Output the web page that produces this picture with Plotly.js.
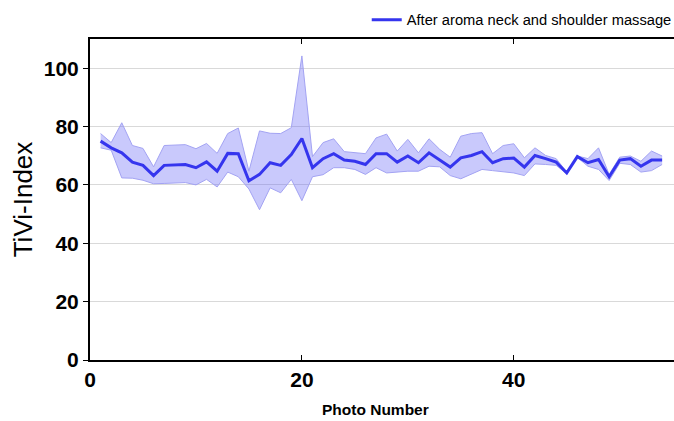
<!DOCTYPE html>
<html>
<head>
<meta charset="utf-8">
<script src="https://cdn.plot.ly/plotly-3.0.1.min.js"></script>
<style>
html,body{margin:0;padding:0;background:#fff;overflow:hidden;width:674px;height:421px;}
#chart{width:690px;height:421px;}
</style>
</head>
<body>
<div id="chart"></div>
<script>
const photoNumber = [1,2,3,4,5,6,7,8,9,10,11,12,13,14,15,16,17,18,19,20,21,22,23,24,25,26,27,28,29,30,31,32,33,34,35,36,37,38,39,40,41,42,43,44,45,46,47,48,49,50,51,52,53,54];
const tiviMean = [75.0,72.7,71.0,67.8,66.7,63.2,66.7,66.8,67.0,65.9,67.9,64.7,70.8,70.7,61.4,63.6,67.6,66.7,70.4,75.9,65.9,69.0,70.7,68.5,68.1,67.0,70.7,70.7,67.8,69.9,67.6,71.0,68.7,66.1,69.3,70.1,71.4,67.6,69.0,69.2,66.1,70.1,69.0,67.8,64.1,69.7,67.6,68.7,62.8,68.5,69.0,66.4,68.5,68.5];
const tiviUpper = [77.6,74.5,81.3,73.5,72.5,66.2,73.5,73.6,73.8,72.4,74.2,70.8,77.6,79.5,64.7,78.5,77.7,77.6,79.6,104.2,69.7,74.5,75.8,71.4,71.0,70.7,76.1,77.4,71.6,75.6,71.0,75.8,72.2,69.5,76.7,77.6,77.9,70.7,73.5,74.1,69.3,72.7,70.1,69.0,64.4,69.9,69.0,72.7,63.6,69.5,69.9,68.1,71.6,69.9];
const tiviLower = [72.7,71.9,62.4,62.3,61.6,60.4,60.5,60.7,60.8,60.0,61.9,59.3,64.4,62.8,58.6,51.5,59.0,57.3,61.9,54.6,62.8,63.5,65.9,65.9,65.3,63.6,65.9,64.1,64.5,64.7,64.7,66.4,66.2,63.2,62.1,63.6,65.3,64.9,64.5,64.1,63.2,67.2,67.0,66.7,63.8,69.4,66.4,65.3,61.5,67.4,67.0,64.4,64.9,67.0];
const yTicks = [0,20,40,60,80,100];
const xTicks = [0,20,40];
const legendLabel = 'After aroma neck and shoulder massage';
const xTitle = 'Photo Number';
const yTitle = 'TiVi-Index';

const bandEdge = '#a3a3f3';
const traces = [
  {x: photoNumber, y: tiviLower, type:'scatter', mode:'lines', line:{color:bandEdge, width:1}, showlegend:false, hoverinfo:'skip'},
  {x: photoNumber, y: tiviUpper, type:'scatter', mode:'lines', line:{color:bandEdge, width:1}, fill:'tonexty', fillcolor:'rgba(100,100,245,0.35)', showlegend:false, hoverinfo:'skip'},
  {x: photoNumber, y: tiviMean, type:'scatter', mode:'lines', name: legendLabel, line:{color:'#3535ee', width:3}},
  {x: [0], y: [0], yaxis:'y2', type:'scatter', mode:'markers', marker:{opacity:0}, showlegend:false, hoverinfo:'skip'}
];

const tickFont = {family:'Liberation Sans, Arial, sans-serif', size:21, color:'#000', weight:'bold'};
const layout = {
  width: 690, height: 421,
  margin: {l:90, r:12, t:39, b:61, autoexpand:false},
  paper_bgcolor:'#fff', plot_bgcolor:'#fff',
  showlegend: true,
  legend: {xref:'container', yref:'container', x:0.5315, xanchor:'left', y:0.952, yanchor:'middle', orientation:'h',
           font:{family:'Liberation Sans, Arial, sans-serif', size:14.7, color:'#000'},
           bgcolor:'rgba(0,0,0,0)'},
  xaxis: {
    range:[0,55.5], tickvals:xTicks, ticktext:xTicks.map(String),
    ticks:'inside', ticklen:5, tickwidth:1, tickcolor:'#000',
    showline:true, linecolor:'#000', linewidth:2, mirror:'ticks',
    showgrid:false, zeroline:false, tickfont:tickFont
  },
  yaxis: {
    range:[0,110], tickvals:yTicks, ticktext:yTicks.map(String),
    ticks:'outside', ticklen:5, tickwidth:1, tickcolor:'#000',
    showline:true, linecolor:'#000', linewidth:2,
    showgrid:true, gridcolor:'#d9d9d9', gridwidth:1, zeroline:false,
    tickfont:tickFont,
    title:{text:yTitle, font:{family:'Liberation Sans, Arial, sans-serif', size:26, color:'#000'}, standoff:4}
  },
  yaxis2: {
    overlaying:'y', side:'right', range:[0,110], tickvals:yTicks,
    ticks:'inside', ticklen:4, tickwidth:2, tickcolor:'#000',
    showticklabels:false, showgrid:false, zeroline:false,
    showline:true, linecolor:'#000', linewidth:2
  },
  annotations: [
    {text:xTitle, xref:'paper', yref:'paper', x:0.485, y:-0.155, xanchor:'center', yanchor:'middle', showarrow:false,
     font:{family:'Liberation Sans, Arial, sans-serif', size:15.5, color:'#000', weight:'bold'}}
  ]
};
Plotly.newPlot('chart', traces, layout, {displayModeBar:false, staticPlot:true});
</script>
</body>
</html>
